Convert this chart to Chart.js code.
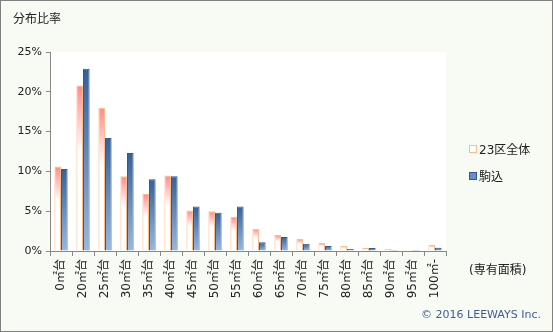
<!DOCTYPE html>
<html lang="ja">
<head>
    <meta charset="UTF-8">
    <title>分布比率</title>
    <script src="https://cdn.jsdelivr.net/npm/chart.js"></script>
    <style>
        body {
            margin: 0;
            font-family: "DejaVu Sans", "Noto Sans CJK JP", sans-serif;
        }
        .frame {
            position: relative;
            width: 551px;
            height: 330px;
            border: 1px solid #808080;
            background-color: #f8fbf4;
            overflow: hidden;
        }
        #chart { position: absolute; left: -1px; top: -1px; }
        .title {
            position: absolute; left: 12px; top: 8px;
            font-size: 12px; color: #222;
        }
        .legend {
            position: absolute; left: 468px; top: 139px;
            font-size: 12px; color: #222;
        }
        .legend div { height: 27px; display: flex; align-items: flex-start; }
        .legend span.box {
            display: inline-block; width: 6px; height: 6px; margin: 5px 2px 0 0;
        }
        .unit {
            position: absolute; left: 468px; top: 259px;
            font-size: 12px; color: #222;
        }
        .copy {
            position: absolute; right: 11px; top: 307px;
            font-size: 11px; color: #3d5f93;
        }
    </style>
</head>
<body>
<div class="frame">
    <canvas id="chart" width="553" height="332"></canvas>
    <div class="title">分布比率</div>
    <div class="legend" id="legend"></div>
    <div class="unit">(専有面積)</div>
    <div class="copy">© 2016 LEEWAYS Inc.</div>
</div>

<script>
    // 専有面積の区分
    const categories = ['0㎡台', '20㎡台', '25㎡台', '30㎡台', '35㎡台', '40㎡台', '45㎡台', '50㎡台', '55㎡台',
        '60㎡台', '65㎡台', '70㎡台', '75㎡台', '80㎡台', '85㎡台', '90㎡台', '95㎡台', '100㎡-'];
    const seriesNames = ['23区全体', '駒込'];
    // 分布比率 (%)
    const allWards = [10.6, 20.8, 18.0, 9.4, 7.2, 9.5, 5.1, 5.0, 4.3, 2.8, 2.0, 1.5, 1.0, 0.63, 0.38, 0.25, 0.13, 0.75];
    const komagome = [10.3, 22.9, 14.2, 12.3, 9.0, 9.4, 5.6, 4.8, 5.6, 1.1, 1.75, 0.9, 0.63, 0.25, 0.38, 0.13, 0.13, 0.4];
    const yTicks = [0, 5, 10, 15, 20, 25];

    const ctx = document.getElementById('chart').getContext('2d');

    // 棒ごとのグラデーション
    function barGradient(context, stops) {
        const chart = context.chart;
        if (!chart.chartArea || context.raw == null) return stops[0][1];
        const y = chart.scales.y;
        const top = y.getPixelForValue(context.raw);
        const base = y.getPixelForValue(0);
        const g = chart.ctx.createLinearGradient(0, top, 0, Math.max(base, top + 1));
        stops.forEach(s => g.addColorStop(s[0], s[1]));
        return g;
    }

    const orangeStops = [[0, '#ff8a8a'], [0.4, '#ffffff'], [1, '#ffffff']];
    const blueStops = [[0, '#34609a'], [1, '#98b8e2']];

    new Chart(ctx, {
        type: 'bar',
        data: {
            labels: categories,
            datasets: [
                {
                    label: seriesNames[0],
                    data: allWards,
                    backgroundColor: c => barGradient(c, orangeStops),
                    borderColor: '#fbbd88',
                    borderWidth: 1,
                    borderSkipped: 'bottom'
                },
                {
                    label: seriesNames[1],
                    data: komagome,
                    backgroundColor: c => barGradient(c, blueStops),
                    borderColor: '#2f5a8f',
                    borderWidth: 1,
                    borderSkipped: 'bottom'
                }
            ]
        },
        options: {
            responsive: false,
            animation: false,
            layout: { padding: { left: 0, top: 52, right: 107, bottom: 0 } },
            datasets: { bar: { categoryPercentage: 0.6, barPercentage: 1 } },
            plugins: {
                legend: { display: false },
                tooltip: { enabled: false }
            },
            scales: {
                x: {
                    grid: { drawOnChartArea: false, drawTicks: true, tickLength: 5, color: '#888', offset: true },
                    border: { color: '#888' },
                    ticks: {
                        minRotation: 90, maxRotation: 90, autoSkip: false,
                        color: '#222', padding: 3,
                        font: { family: '"DejaVu Sans", "Noto Sans CJK JP"', size: 12 }
                    },
                    afterFit: s => { s.height = 81; }
                },
                y: {
                    min: 0, max: 25,
                    afterBuildTicks: s => { s.ticks = yTicks.map(v => ({ value: v })); },
                    grid: { drawOnChartArea: false, drawTicks: true, tickLength: 4, color: '#888' },
                    border: { color: '#888' },
                    ticks: {
                        color: '#222', padding: 4,
                        font: { family: '"DejaVu Sans"', size: 11 },
                        callback: v => v + '%'
                    },
                    afterFit: s => { s.width = 50; }
                }
            }
        },
        plugins: [{
            id: 'plotBg',
            beforeDraw(chart) {
                const a = chart.chartArea;
                chart.ctx.save();
                chart.ctx.fillStyle = '#ffffff';
                chart.ctx.fillRect(a.left, a.top, a.right - a.left, a.bottom - a.top);
                chart.ctx.restore();
            }
        }]
    });

    // 凡例
    const legend = document.getElementById('legend');
    [['#fbbd88', '#fff'], ['#2f5a8f', '#6a8fc2']].forEach((col, i) => {
        const row = document.createElement('div');
        row.innerHTML = `<span class="box" style="border:1px solid ${col[0]};background:${col[1]}"></span>${seriesNames[i]}`;
        legend.appendChild(row);
    });
</script>
</body>
</html>
